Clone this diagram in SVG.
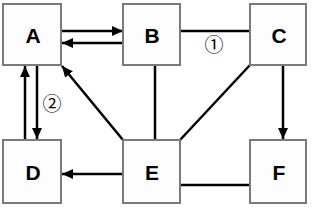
<svg xmlns="http://www.w3.org/2000/svg" width="314" height="210" viewBox="0 0 314 210">
<defs>
<marker id="ah" markerUnits="userSpaceOnUse" markerWidth="12" markerHeight="12" viewBox="0 0 12 12" refX="11" refY="6" orient="auto">
<path d="M0,1 L11,6 L0,11 Z" fill="#000"/>
</marker>
<style>
.box{fill:#fdfdfd;stroke:#7a7a7a;stroke-width:2}
.lbl{font-family:"Liberation Sans",Arial,sans-serif;font-weight:bold;font-size:21px;fill:#000;text-anchor:middle}
.c{stroke:#000;stroke-width:2.5;fill:none}
.a{marker-end:url(#ah)}
.num{font-family:"Noto Sans CJK SC","DejaVu Sans",sans-serif;font-size:19px;fill:#000;text-anchor:middle}
</style>
</defs>
<rect width="314" height="210" fill="#fff"/>
<g id="connectors">
<line class="c a" x1="61" y1="31" x2="123" y2="31"/>
<line class="c a" x1="123" y1="43" x2="62" y2="43"/>
<line class="c" x1="180" y1="31" x2="250" y2="31"/>
<line class="c a" x1="25" y1="140" x2="25" y2="66"/>
<line class="c a" x1="37" y1="65" x2="37" y2="139"/>
<line class="c a" x1="123" y1="140" x2="62" y2="66"/>
<line class="c" x1="155" y1="65" x2="155" y2="140"/>
<line class="c" x1="250" y1="65" x2="180" y2="140"/>
<line class="c a" x1="283" y1="65" x2="283" y2="139"/>
<line class="c a" x1="123" y1="174" x2="62" y2="174"/>
<line class="c" x1="180" y1="185" x2="250" y2="185"/>
<text class="num" x="214" y="52">①</text>
<text class="num" x="52" y="111">②</text>
</g>
<g id="A"><rect class="box" x="3" y="4" width="58" height="61"/><text class="lbl" x="33" y="43">A</text></g>
<g id="B"><rect class="box" x="123" y="4" width="57" height="61"/><text class="lbl" x="152" y="43">B</text></g>
<g id="C"><rect class="box" x="250" y="4" width="56" height="61"/><text class="lbl" x="279" y="43">C</text></g>
<g id="D"><rect class="box" x="3" y="140" width="58" height="63"/><text class="lbl" x="33" y="180">D</text></g>
<g id="E"><rect class="box" x="123" y="140" width="57" height="63"/><text class="lbl" x="152" y="180">E</text></g>
<g id="F"><rect class="box" x="250" y="140" width="56" height="63"/><text class="lbl" x="279" y="180">F</text></g>
</svg>
